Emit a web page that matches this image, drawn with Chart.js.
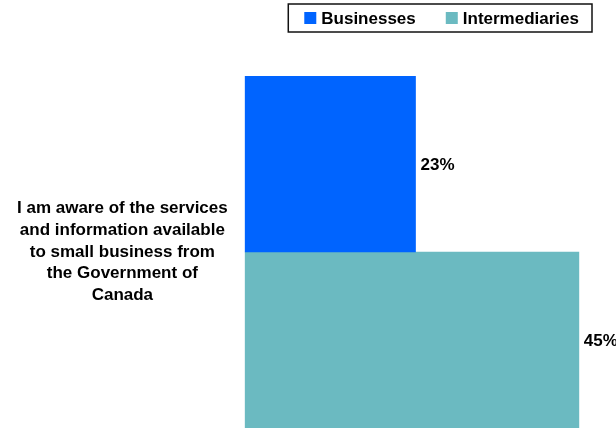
<!DOCTYPE html>
<html>
<head>
<meta charset="utf-8">
<script src="https://cdn.jsdelivr.net/npm/chart.js@4/dist/chart.umd.min.js"></script>
<style>
  html, body { margin: 0; padding: 0; background: #fff; }
  #wrap { width: 616px; height: 430px; }
</style>
</head>
<body>
<div id="wrap"><canvas id="awareChart"></canvas></div>
<script>
var categories = [
    ['I am aware of the services', 'and information available', 'to small business from', 'the Government of', 'Canada']
];
var seriesNames = ['Businesses', 'Intermediaries'];
var businesses = [23];
var intermediaries = [45];

const colors = {
    businesses: '#0064FF',
    intermediaries: '#6BBAC1'
};

const FONT = '"Liberation Sans", Arial, sans-serif';

// percent labels just past the end of each bar
const valueLabels = {
    id: 'valueLabels',
    afterDatasetsDraw(chart) {
        const ctx = chart.ctx;
        ctx.save();
        ctx.font = 'bold 17px ' + FONT;
        ctx.fillStyle = '#000';
        ctx.textAlign = 'left';
        ctx.textBaseline = 'middle';
        chart.data.datasets.forEach(function(ds, i) {
            chart.getDatasetMeta(i).data.forEach(function(bar, j) {
                ctx.fillText(ds.data[j] + '%', bar.x + 5, bar.y + 1);
            });
        });
        ctx.restore();
    }
};

// legend in a thin framed box, top right
const boxedLegend = {
    id: 'boxedLegend',
    afterDraw(chart) {
        const ctx = chart.ctx;
        const sets = chart.data.datasets;
        const box = 12, gap = 5, spacing = 30;
        const right = 592, top = 4, height = 28;
        ctx.save();
        ctx.font = 'bold 17px ' + FONT;
        const widths = sets.map(function(ds) { return ctx.measureText(ds.label).width; });
        let content = 0;
        widths.forEach(function(w, i) { content += box + gap + w + (i > 0 ? spacing : 0); });
        const left = right - 13 - content - 16;
        ctx.strokeStyle = '#111';
        ctx.lineWidth = 1.5;
        ctx.strokeRect(left, top, right - left, height);
        let x = left + 16;
        const cy = top + height / 2;
        ctx.textBaseline = 'middle';
        ctx.textAlign = 'left';
        sets.forEach(function(ds, i) {
            ctx.fillStyle = ds.backgroundColor;
            ctx.fillRect(x, cy - box / 2, box, box);
            ctx.fillStyle = '#000';
            ctx.fillText(ds.label, x + box + gap, cy + 1);
            x += box + gap + widths[i] + spacing;
        });
        ctx.restore();
    }
};

var ctx = document.getElementById('awareChart').getContext('2d');

new Chart(ctx, {
    type: 'bar',
    data: {
        labels: categories,
        datasets: [
            {
                label: seriesNames[0],
                backgroundColor: colors.businesses,
                data: businesses
            },
            {
                label: seriesNames[1],
                backgroundColor: colors.intermediaries,
                data: intermediaries
            }
        ]
    },
    options: {
        indexAxis: 'y',
        responsive: true,
        maintainAspectRatio: false,
        animation: false,
        layout: {
            padding: { top: 76, bottom: 2, left: 0, right: 0 }
        },
        datasets: {
            bar: {
                categoryPercentage: 1,
                barPercentage: 1
            }
        },
        plugins: {
            legend: { display: false },
            tooltip: { enabled: false }
        },
        scales: {
            x: {
                display: false,
                min: 0,
                max: 50
            },
            y: {
                grid: { display: false, drawTicks: false },
                border: { display: false },
                ticks: {
                    crossAlign: 'center',
                    padding: 17,
                    color: '#000',
                    font: { family: FONT, size: 17, weight: 'bold', lineHeight: 1.28 }
                },
                // the tall wrapped label shouldn't push the plot area inward
                afterFit: function(scale) {
                    scale.paddingTop = 0;
                    scale.paddingBottom = 0;
                }
            }
        }
    },
    plugins: [valueLabels, boxedLegend]
});
</script>
</body>
</html>
